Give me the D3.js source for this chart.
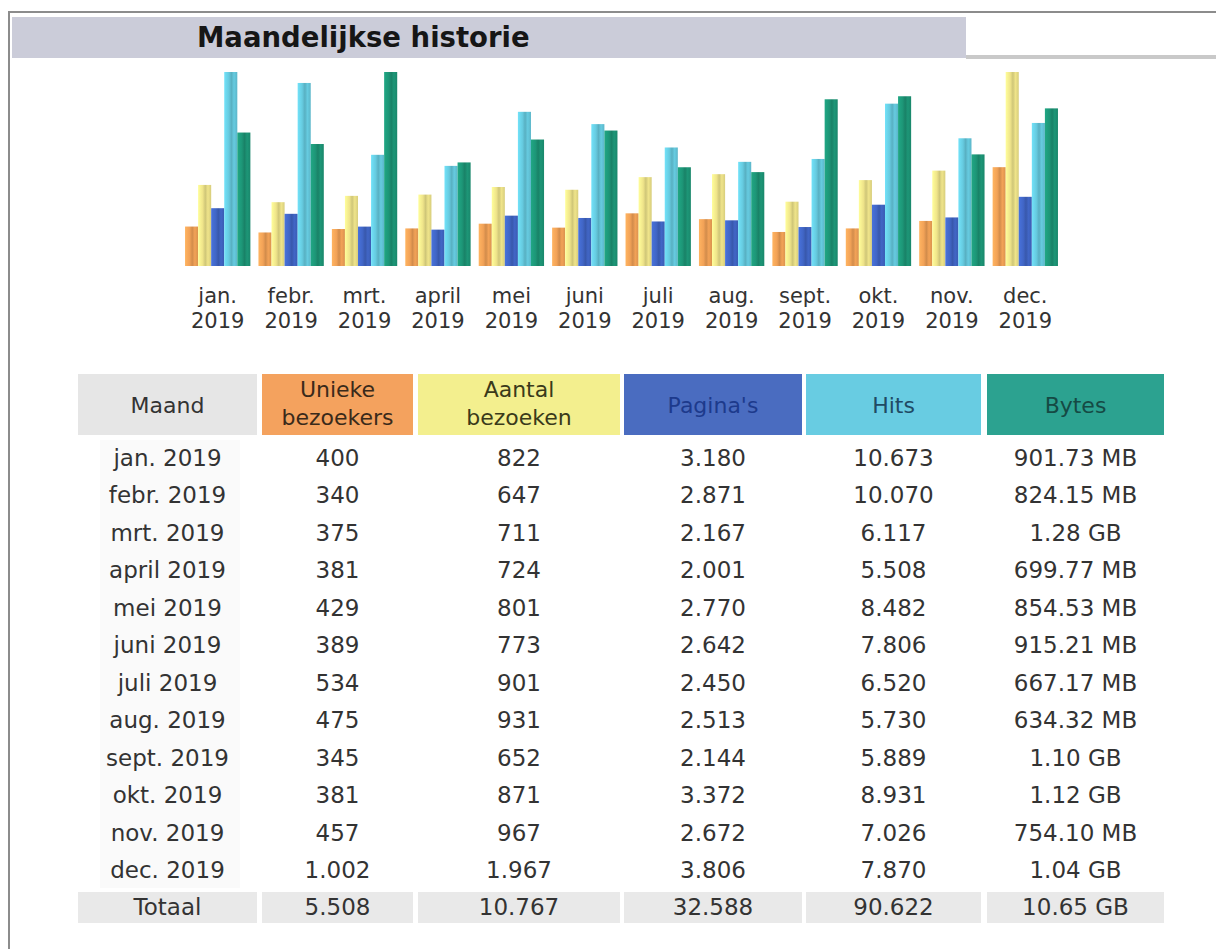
<!DOCTYPE html>
<html>
<head>
<meta charset="utf-8">
<script src="https://cdn.jsdelivr.net/npm/d3@7"></script>
<style>
  html, body { margin: 0; padding: 0; background: #fff; }
  svg { display: block; font-family: "DejaVu Sans", Verdana, sans-serif; }
</style>
</head>
<body>
<script>
// monthly history, values
const months = ["jan.", "febr.", "mrt.", "april", "mei", "juni", "juli", "aug.", "sept.", "okt.", "nov.", "dec."];
const year = "2019";
const visitors = [400, 340, 375, 381, 429, 389, 534, 475, 345, 381, 457, 1002];
const visits = [822, 647, 711, 724, 801, 773, 901, 931, 652, 871, 967, 1967];
const pages = [3180, 2871, 2167, 2001, 2770, 2642, 2450, 2513, 2144, 3372, 2672, 3806];
const hits = [10673, 10070, 6117, 5508, 8482, 7806, 6520, 5730, 5889, 8931, 7026, 7870];
const bytesMB = [901.73, 824.15, 1310.72, 699.77, 854.53, 915.21, 667.17, 634.32, 1126.4, 1146.88, 754.10, 1064.96];
const bytesLabels = ["901.73 MB", "824.15 MB", "1.28 GB", "699.77 MB", "854.53 MB", "915.21 MB",
                     "667.17 MB", "634.32 MB", "1.10 GB", "1.12 GB", "754.10 MB", "1.04 GB"];
const totals = ["5.508", "10.767", "32.588", "90.622", "10.65 GB"];
const headers = [["Maand"], ["Unieke", "bezoekers"], ["Aantal", "bezoeken"], ["Pagina's"], ["Hits"], ["Bytes"]];

const W = 1216, H = 949;
const nl = d3.formatLocale({decimal: ",", thousands: ".", grouping: [3], currency: ["€", ""]});
const fmt = nl.format(",d");

const svg = d3.select("body").append("svg").attr("width", W).attr("height", H);

// frame + title bar
svg.append("rect").attr("x", 0).attr("y", 0).attr("width", W).attr("height", H).attr("fill", "#fff");
svg.append("line").attr("x1", 8).attr("x2", W).attr("y1", 12).attr("y2", 12)
    .attr("stroke", "#8c8c8c").attr("stroke-width", 2);
svg.append("line").attr("x1", 9).attr("x2", 9).attr("y1", 11).attr("y2", H)
    .attr("stroke", "#8c8c8c").attr("stroke-width", 2);
svg.append("rect").attr("x", 12).attr("y", 17).attr("width", 954).attr("height", 41).attr("fill", "#cbccd9");
svg.append("rect").attr("x", 966).attr("y", 55).attr("width", W - 966).attr("height", 4).attr("fill", "#c9c9c9");
svg.append("text").attr("x", 197).attr("y", 47)
    .attr("font-size", 27.5).attr("font-weight", "bold").attr("fill", "#161616")
    .text("Maandelijkse historie");

// bars
const series = [
  {key: "u", vals: visitors, color: "#f2a257"},
  {key: "v", vals: visits, color: "#efe48a"},
  {key: "p", vals: pages, color: "#4166c6"},
  {key: "h", vals: hits, color: "#66cbe0"},
  {key: "k", vals: bytesMB, color: "#1d9677"}
];
const base = 266, maxH = 194;
const yVis = d3.scaleLinear().domain([0, d3.max(visitors.concat(visits))]).range([0, maxH]);
const yHit = d3.scaleLinear().domain([0, d3.max(pages.concat(hits))]).range([0, maxH]);
const yByte = d3.scaleLinear().domain([0, d3.max(bytesMB)]).range([0, maxH]);
const yFor = {u: yVis, v: yVis, p: yHit, h: yHit, k: yByte};

const x0 = d3.scaleBand().domain(months).range([181, 1062]).paddingInner(0.11).paddingOuter(0.055);
const x1 = d3.scaleBand().domain(series.map(s => s.key)).range([0, x0.bandwidth()]);

const defs = svg.append("defs");
series.forEach(s => {
  const c = d3.color(s.color);
  const g = defs.append("linearGradient").attr("id", "g" + s.key).attr("x1", 0).attr("x2", 1);
  g.append("stop").attr("offset", 0).attr("stop-color", c.brighter(0.3));
  g.append("stop").attr("offset", 0.35).attr("stop-color", c);
  g.append("stop").attr("offset", 0.55).attr("stop-color", c.darker(0.4));
  g.append("stop").attr("offset", 0.75).attr("stop-color", c);
  g.append("stop").attr("offset", 1).attr("stop-color", c.darker(0.3));
});

const groups = svg.append("g").selectAll("g").data(months).join("g")
    .attr("transform", d => `translate(${x0(d)},0)`);
groups.selectAll("rect")
  .data((m, i) => series.map(s => ({key: s.key, v: s.vals[i]})))
  .join("rect")
    .attr("x", d => x1(d.key))
    .attr("width", x1.bandwidth())
    .attr("y", d => base - yFor[d.key](d.v))
    .attr("height", d => yFor[d.key](d.v))
    .attr("fill", d => `url(#g${d.key})`);

const lab = svg.append("g").attr("font-size", 21).attr("fill", "#333").attr("text-anchor", "middle");
months.forEach(m => {
  const cx = x0(m) + x0.bandwidth() / 2;
  lab.append("text").attr("x", cx).attr("y", 303).text(m);
  lab.append("text").attr("x", cx).attr("y", 328).text(year);
});

// table
const cols = [[78, 257], [262, 413], [418, 620], [624, 802], [806, 981], [987, 1164]];
const headFill = ["#e6e6e6", "#f4a25e", "#f3ef8e", "#4a6cc0", "#68cce2", "#2ca290"];
const headInk = ["#333", "#3a2a1a", "#3a3a1a", "#1d3a8c", "#204a64", "#154a44"];
const head = svg.append("g");
cols.forEach((c, i) => {
  head.append("rect").attr("x", c[0]).attr("y", 374).attr("width", c[1] - c[0]).attr("height", 61)
      .attr("fill", headFill[i]);
  const t = head.append("text").attr("x", (c[0] + c[1]) / 2).attr("text-anchor", "middle")
      .attr("font-size", 22).attr("fill", headInk[i]);
  const lines = headers[i];
  lines.forEach((ln, j) => {
    t.append("tspan").attr("x", (c[0] + c[1]) / 2)
      .attr("y", lines.length === 1 ? 413 : 397 + j * 28).text(ln);
  });
});

const rowY = d3.scaleLinear().domain([0, 11]).range([458, 870]);
const body = svg.append("g").attr("font-size", 23).attr("fill", "#333").attr("text-anchor", "middle");
body.append("rect").attr("x", 100).attr("y", 440).attr("width", 140).attr("height", 448).attr("fill", "#fafafa");
months.forEach((m, i) => {
  const cells = [m + " " + year, fmt(visitors[i]), fmt(visits[i]), fmt(pages[i]), fmt(hits[i]), bytesLabels[i]];
  cells.forEach((txt, j) => {
    body.append("text").attr("x", (cols[j][0] + cols[j][1]) / 2).attr("y", rowY(i) + 8).text(txt);
  });
});

const tot = svg.append("g").attr("font-size", 23).attr("fill", "#333").attr("text-anchor", "middle");
["Totaal"].concat(totals).forEach((txt, j) => {
  tot.append("rect").attr("x", cols[j][0]).attr("y", 892).attr("width", cols[j][1] - cols[j][0])
     .attr("height", 31).attr("fill", "#e9e9e9");
  tot.append("text").attr("x", (cols[j][0] + cols[j][1]) / 2).attr("y", 915).text(txt);
});
</script>
</body>
</html>
